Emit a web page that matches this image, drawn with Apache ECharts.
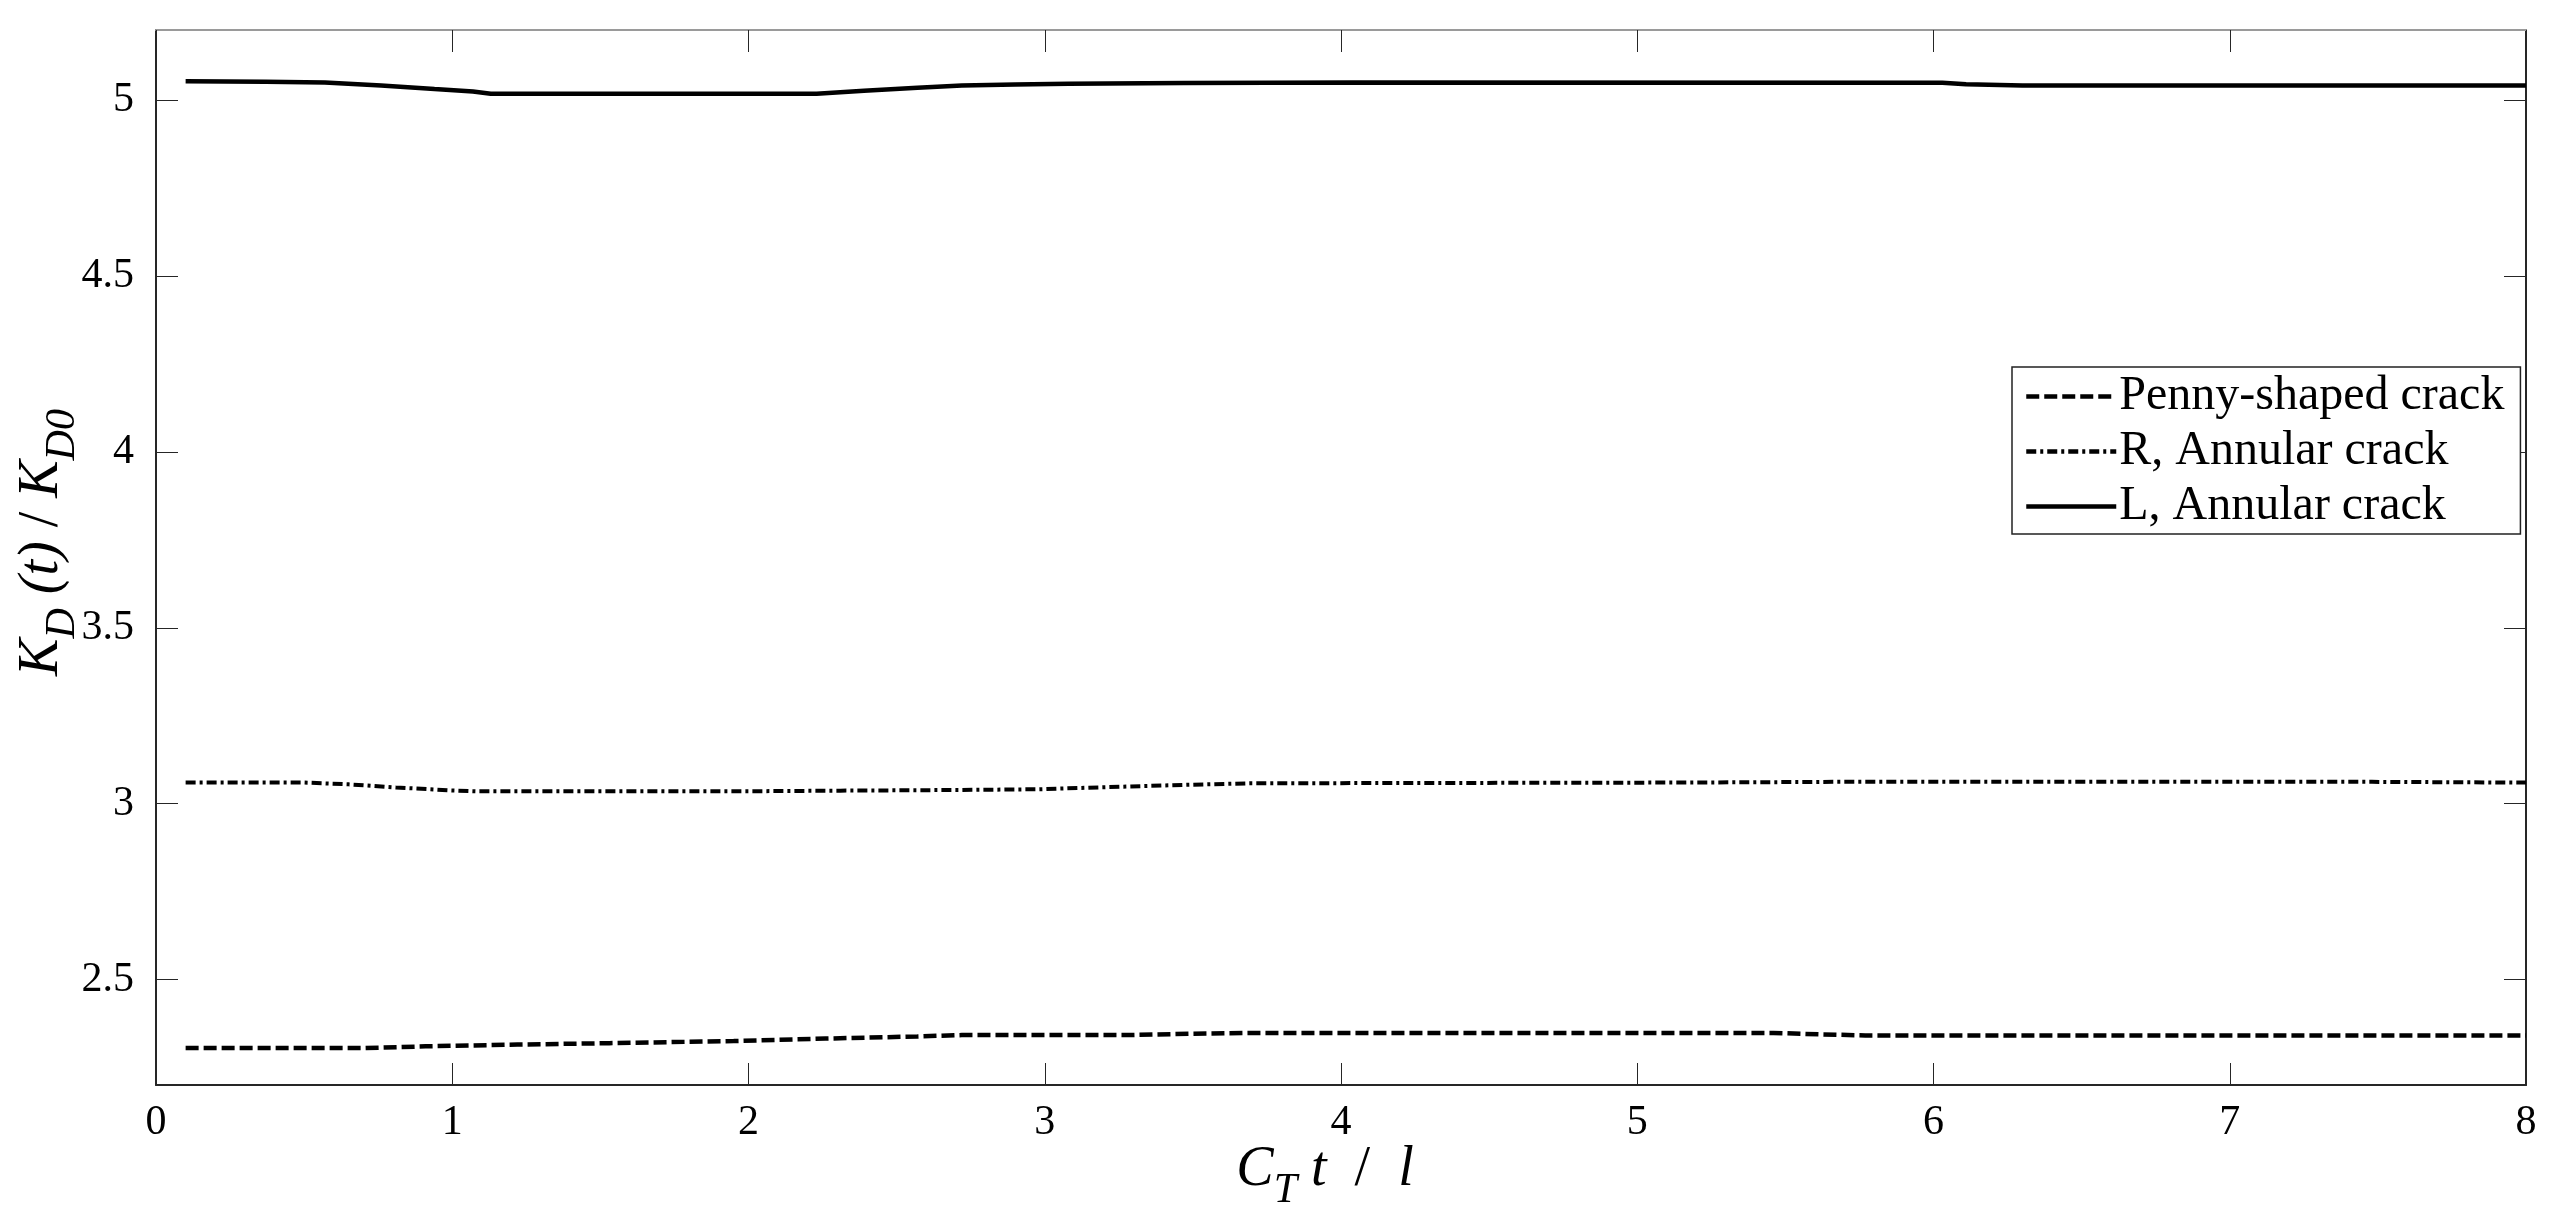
<!DOCTYPE html>
<html>
<head>
<meta charset="utf-8">
<script src="https://cdn.jsdelivr.net/npm/echarts@6/dist/echarts.min.js"></script>
<style>
html,body{margin:0;padding:0;background:#fff;}
#chart{width:2559px;height:1212px;}
</style>
</head>
<body>
<div id="chart"></div>
<script>
// ---- data ----
const seriesNames = ['Penny-shaped crack', 'R, Annular crack', 'L, Annular crack'];

const pennyT = [0.1, 0.7, 0.91, 1.22, 1.53, 1.95, 2.26, 2.57, 2.72, 3.29, 3.5, 3.7, 5.46, 5.62, 5.77, 8];
const pennyV = [2.305, 2.305, 2.310, 2.315, 2.319, 2.325, 2.332, 2.338, 2.342, 2.342, 2.346, 2.348, 2.348, 2.344, 2.341, 2.341];

const rT = [0.1, 0.5, 0.65, 0.81, 0.99, 1.09, 1.95, 2.31, 2.72, 2.98, 3.29, 3.5, 3.7, 5.15, 5.67, 7.48, 8];
const rV = [3.060, 3.060, 3.055, 3.046, 3.038, 3.035, 3.035, 3.037, 3.039, 3.041, 3.049, 3.054, 3.058, 3.060, 3.062, 3.062, 3.060];

const lT = [0.1, 0.37, 0.57, 0.76, 0.94, 1.07, 1.13, 2.23, 2.39, 2.57, 2.72, 2.90, 3.08, 3.47, 4.04, 6.03, 6.11, 6.30, 8];
const lV = [5.054, 5.053, 5.051, 5.042, 5.032, 5.025, 5.019, 5.019, 5.027, 5.036, 5.042, 5.045, 5.047, 5.049, 5.051, 5.050, 5.046, 5.042, 5.042];

const xTicks = [0, 1, 2, 3, 4, 5, 6, 7, 8];
const yTicks = [2.5, 3, 3.5, 4, 4.5, 5];

// ---- chart ----
const FONT = "'Liberation Serif', 'Times New Roman', serif";
const AX = '#262626';
const pair = (t, v) => t.map((x, i) => [x, v[i]]);

const titleRich = {
  m: { fontFamily: FONT, fontSize: 56, fontStyle: 'italic', color: '#000', lineHeight: 56, verticalAlign: 'top' },
  n: { fontFamily: FONT, fontSize: 56, fontStyle: 'normal', color: '#000', lineHeight: 56, verticalAlign: 'top' },
  s: { fontFamily: FONT, fontSize: 42, fontStyle: 'italic', color: '#000', lineHeight: 70, verticalAlign: 'bottom' }
};

const chart = echarts.init(document.getElementById('chart'), null, { renderer: 'canvas' });
chart.setOption({
  animation: false,
  backgroundColor: '#fff',
  grid: { left: 156, right: 33, top: 30, bottom: 127, containLabel: false, outerBoundsMode: 'none' },
  legend: {
    left: 2012,
    top: 367,
    orient: 'vertical',
    padding: [2, 16, 0, 12],
    itemGap: 0,
    itemWidth: 90,
    itemHeight: 14,
    borderColor: '#222',
    borderWidth: 1.5,
    backgroundColor: '#fff',
    itemStyle: { opacity: 0 },
    lineStyle: { width: 4.5 },
    textStyle: { fontFamily: FONT, fontSize: 48, color: '#000', lineHeight: 55, padding: [0, 0, 0, -2] },
    data: seriesNames
  },
  xAxis: [{
    type: 'value', min: 0, max: 8, interval: 1, position: 'bottom',
    axisLine: { show: true, onZero: false, lineStyle: { color: AX, width: 2 } },
    axisTick: { show: true, inside: true, length: 22, lineStyle: { color: AX, width: 1 } },
    axisLabel: { fontFamily: FONT, fontSize: 42, color: '#000', margin: 17 },
    splitLine: { show: false },
    name: '{m|C}{s|T}{m| t  }{n|/}{m|  l}',
    nameLocation: 'middle', nameGap: 57, nameMoveOverlap: false,
    nameTextStyle: { rich: titleRich, padding: [0, 32, 0, 0] }
  }, {
    type: 'value', min: 0, max: 8, interval: 1, position: 'top',
    axisLine: { show: true, onZero: false, lineStyle: { color: '#9a9a9a', width: 2 } },
    axisTick: { show: true, inside: true, length: 22, lineStyle: { color: AX, width: 1 } },
    axisLabel: { show: false },
    splitLine: { show: false }
  }],
  yAxis: [{
    type: 'value', min: 2.2, max: 5.2, position: 'left',
    axisLine: { show: true, onZero: false, lineStyle: { color: AX, width: 2 } },
    axisTick: { show: true, inside: true, length: 22, customValues: yTicks, lineStyle: { color: AX, width: 1 } },
    axisLabel: { fontFamily: FONT, fontSize: 42, color: '#000', margin: 22, customValues: yTicks },
    splitLine: { show: false },
    name: '{m|K}{s|D}{m| (t) }{n|/}{m| K}{s|D0}',
    nameLocation: 'middle', nameGap: 72, nameMoveOverlap: false,
    nameTextStyle: { rich: titleRich, padding: [0, 0, 0, 30] }
  }, {
    type: 'value', min: 2.2, max: 5.2, position: 'right',
    axisLine: { show: true, onZero: false, lineStyle: { color: AX, width: 2 } },
    axisTick: { show: true, inside: true, length: 22, customValues: yTicks, lineStyle: { color: AX, width: 1 } },
    axisLabel: { show: false, customValues: yTicks },
    splitLine: { show: false }
  }],
  series: [{
    name: seriesNames[0], type: 'line', symbol: 'none', showSymbol: false,
    data: pair(pennyT, pennyV),
    lineStyle: { color: '#000', width: 4.5, type: [13, 5], cap: 'butt' },
    itemStyle: { color: '#000' }
  }, {
    name: seriesNames[1], type: 'line', symbol: 'none', showSymbol: false,
    data: pair(rT, rV),
    lineStyle: { color: '#000', width: 4, type: [10, 4, 3, 4], cap: 'butt' },
    itemStyle: { color: '#000' }
  }, {
    name: seriesNames[2], type: 'line', symbol: 'none', showSymbol: false,
    data: pair(lT, lV),
    lineStyle: { color: '#000', width: 4.5, type: 'solid' },
    itemStyle: { color: '#000' }
  }]
});
</script>
</body>
</html>
